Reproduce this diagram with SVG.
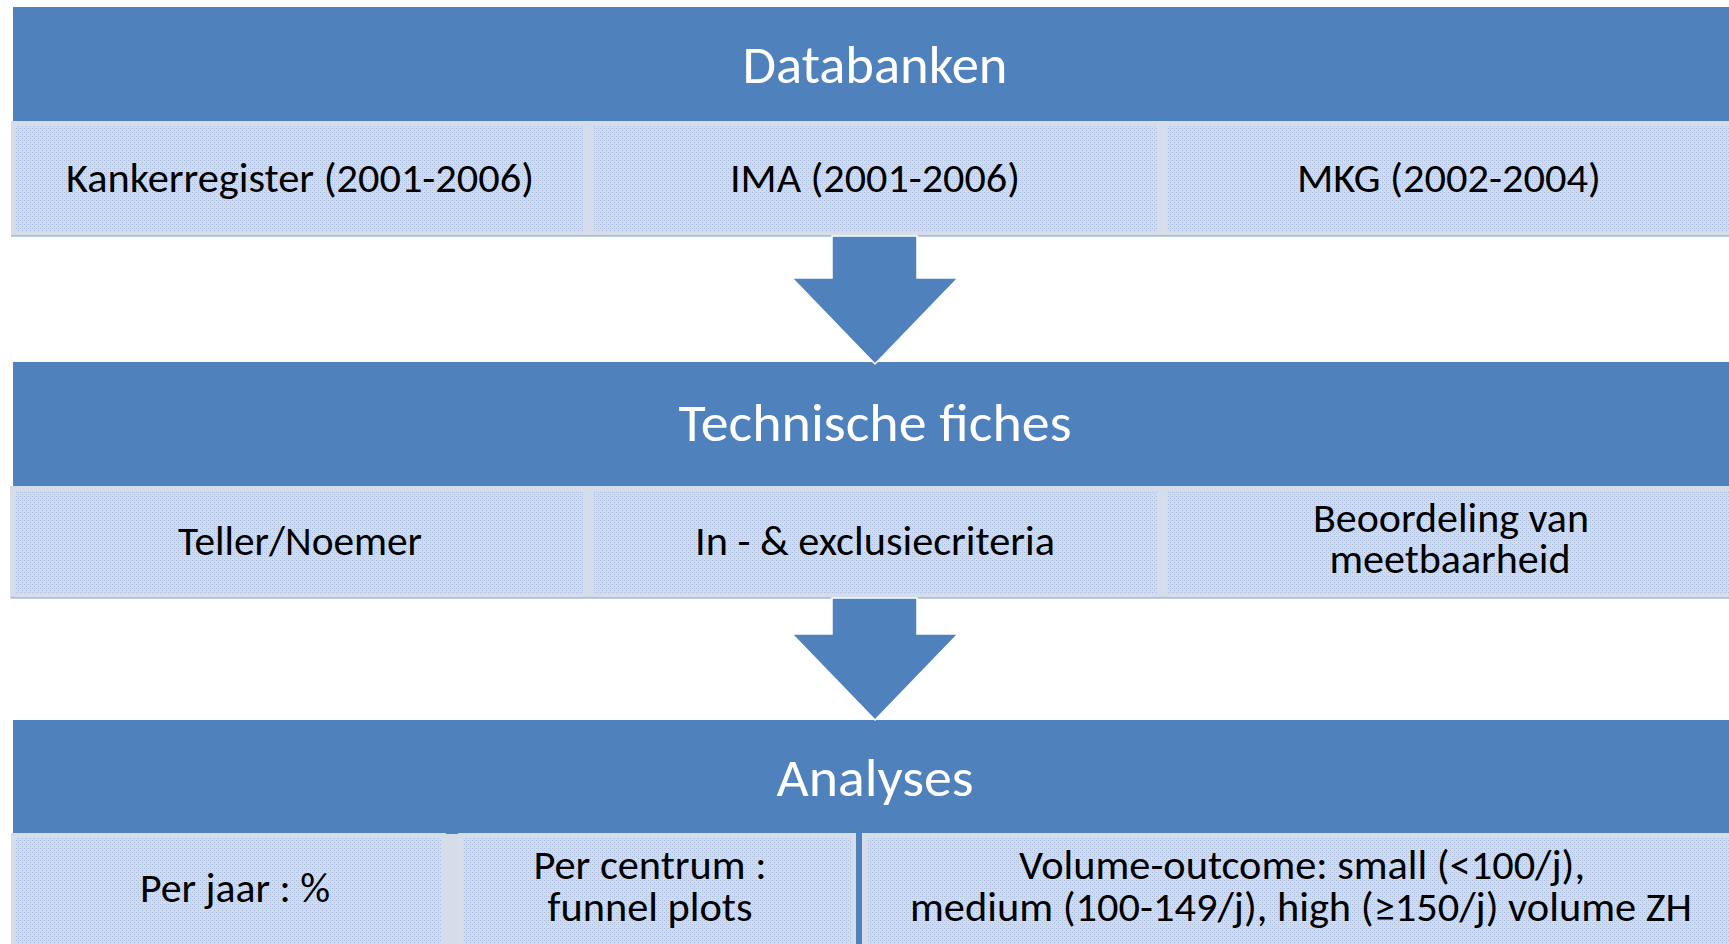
<svg xmlns="http://www.w3.org/2000/svg" width="1729" height="944" viewBox="0 0 1729 944">
  <defs>
    <pattern id="dots" width="4" height="4" patternUnits="userSpaceOnUse">
      <rect width="4" height="4" fill="#D3DBEA"/>
      <rect x="0" y="0" width="1" height="1" fill="#A9BEE1"/>
      <rect x="2" y="2" width="1" height="1" fill="#A9BEE1"/>
      <rect x="2" y="0" width="1" height="1" fill="#BFCDE6"/>
    </pattern>
    <style>
      .hdr { fill: #4F81BD; }
      .box { fill: url(#dots); stroke: #D5DCEA; stroke-width: 5; }
      .edge { fill: #A9BEE1; }
      .arrow { fill: #4F81BD; stroke: #FFFFFF; stroke-width: 1.5; stroke-linejoin: miter; }
      .ht { font-family: Carlito, "Noto Sans", "Open Sans", sans-serif; font-size: 54px; fill: #FFFFFF; text-anchor: middle; }
      .bt { font-family: Carlito, "Noto Sans", "Open Sans", sans-serif; font-size: 41px; fill: #000000; text-anchor: middle; }
    </style>
  </defs>
  <rect width="1729" height="944" fill="#FFFFFF"/>

  <!-- Stage 1 -->
  <g id="hdr-databanken">
    <rect class="hdr" x="13" y="7" width="1730" height="115"/>
    <text class="ht" x="875" y="83" textLength="265" lengthAdjust="spacingAndGlyphs">Databanken</text>
  </g>
  <g id="box-kankerregister">
    <rect class="box" x="13.5" y="123.5" width="572" height="111"/>
    <text class="bt" x="300" y="192" textLength="468" lengthAdjust="spacingAndGlyphs">Kankerregister (2001-2006)</text>
  </g>
  <g id="box-ima">
    <rect class="box" x="590.5" y="123.5" width="569" height="111"/>
    <text class="bt" x="875" y="192" textLength="290" lengthAdjust="spacingAndGlyphs">IMA (2001-2006)</text>
  </g>
  <g id="box-mkg">
    <rect class="box" x="1164.5" y="123.5" width="580" height="111"/>
    <text class="bt" x="1449" y="192" textLength="304" lengthAdjust="spacingAndGlyphs">MKG (2002-2004)</text>
  </g>
  <rect class="edge" x="11" y="235" width="1730" height="1.5"/>

  <!-- Stage 2 -->
  <g id="hdr-technische-fiches">
    <rect class="hdr" x="13" y="362" width="1730" height="124"/>
    <text class="ht" x="875" y="441" textLength="393" lengthAdjust="spacingAndGlyphs">Technische fiches</text>
  </g>
  <g id="box-teller">
    <rect class="box" x="12.5" y="488.5" width="573" height="108"/>
    <text class="bt" x="300" y="555" textLength="244" lengthAdjust="spacingAndGlyphs">Teller/Noemer</text>
  </g>
  <g id="box-criteria">
    <rect class="box" x="590.5" y="488.5" width="569" height="108"/>
    <text class="bt" x="875" y="555" textLength="360" lengthAdjust="spacingAndGlyphs">In - &amp; exclusiecriteria</text>
  </g>
  <g id="box-meetbaarheid">
    <rect class="box" x="1164.5" y="488.5" width="580" height="108"/>
    <text class="bt" x="1451" y="532" textLength="276" lengthAdjust="spacingAndGlyphs">Beoordeling van</text>
    <text class="bt" x="1450" y="573" textLength="241" lengthAdjust="spacingAndGlyphs">meetbaarheid</text>
  </g>
  <rect class="edge" x="11" y="597" width="1730" height="1.5"/>

  <!-- Stage 3 -->
  <g id="hdr-analyses">
    <rect class="hdr" x="13" y="720" width="1730" height="114"/>
    <text class="ht" x="875" y="796" textLength="197" lengthAdjust="spacingAndGlyphs">Analyses</text>
  </g>
  <rect x="441" y="834" width="20" height="110" fill="#D5DCEA"/>
  <rect class="hdr" x="855" y="834" width="7" height="110"/>
  <g id="box-per-jaar">
    <rect class="box" x="13.5" y="835.5" width="430" height="112"/>
    <text class="bt" x="235" y="902" textLength="190" lengthAdjust="spacingAndGlyphs">Per jaar : %</text>
  </g>
  <g id="box-per-centrum">
    <rect class="box" x="460.5" y="835.5" width="393" height="112"/>
    <text class="bt" x="650" y="879" textLength="233" lengthAdjust="spacingAndGlyphs">Per centrum :</text>
    <text class="bt" x="650" y="921" textLength="205" lengthAdjust="spacingAndGlyphs">funnel plots</text>
  </g>
  <g id="box-volume-outcome">
    <rect class="box" x="864.5" y="835.5" width="880" height="112"/>
    <text class="bt" x="1302" y="879" textLength="566" lengthAdjust="spacingAndGlyphs">Volume-outcome: small (&lt;100/j),</text>
    <text class="bt" x="1301" y="921" textLength="782" lengthAdjust="spacingAndGlyphs">medium (100-149/j), high (≥150/j) volume ZH</text>
  </g>

  <!-- Connectors -->
  <g id="connectors">
    <polygon class="arrow" points="832,236 917,236 917,278 958,278 875,364 792,278 832,278"/>
    <polygon class="arrow" points="832,598 917,598 917,634 958,634 875,720 792,634 832,634"/>
  </g>
</svg>
